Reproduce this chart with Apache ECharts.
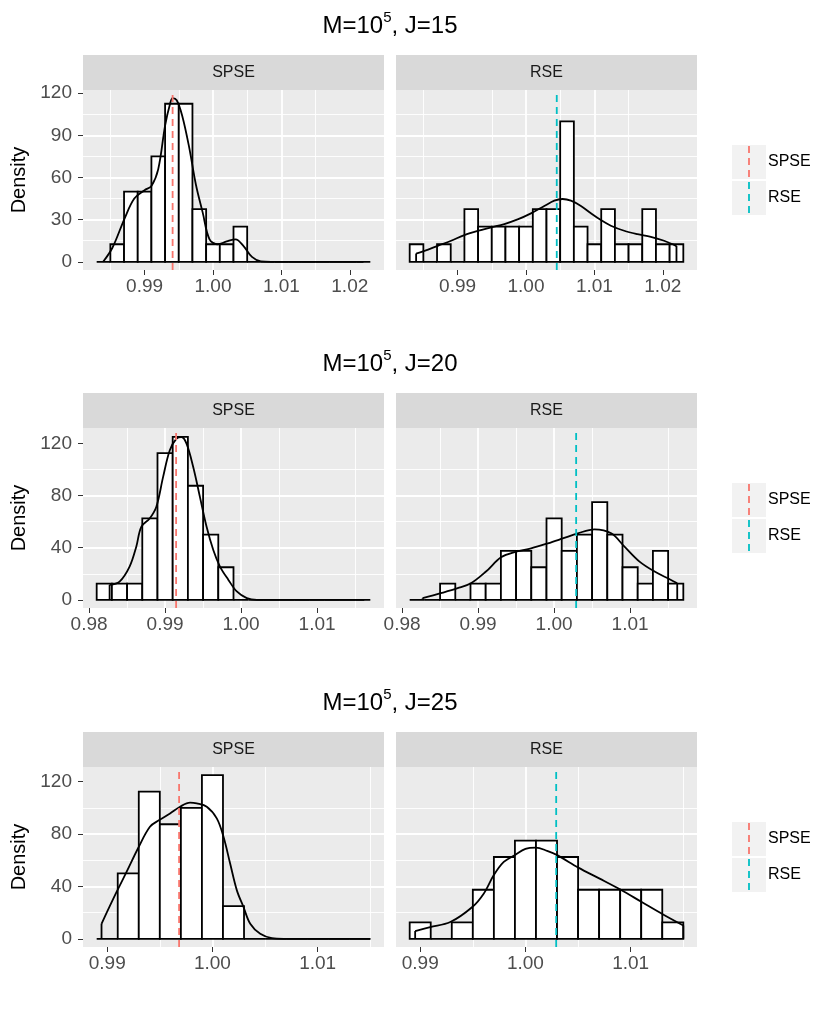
<!DOCTYPE html>
<html>
<head>
<meta charset="utf-8">
<script src="https://cdn.jsdelivr.net/npm/echarts@6/dist/echarts.min.js"></script>
<style>
  html, body { margin: 0; padding: 0; background: #fff; }
  #chart { width: 834px; height: 1015px; }
</style>
</head>
<body>
<div id="chart"></div>
<script>
// ---- data ----
const methods = ['SPSE', 'RSE']
const methodColors = ['#F8766D', '#00BFC4']
const rowLabels = ['J=15', 'J=20', 'J=25']

const binWidth = 0.002
const binStarts = [0.983, 0.981, 0.989]

// histogram densities (n = 40, bin width 0.002)
const spseJ15 = [0, 12.5, 50, 50, 75, 112.5, 112.5, 37.5, 12.5, 12.5, 25, 0, 0, 0, 0, 0, 0, 0, 0, 0]
const rseJ15 = [12.5, 0, 12.5, 0, 37.5, 25, 25, 25, 25, 37.5, 37.5, 100, 25, 12.5, 37.5, 12.5, 12.5, 37.5, 12.5, 12.5]
const spseJ20 = [12.5, 12.5, 12.5, 62.5, 112.5, 125, 87.5, 50, 25, 0, 0, 0, 0, 0, 0, 0, 0, 0]
const rseJ20 = [0, 0, 12.5, 0, 12.5, 12.5, 37.5, 37.5, 25, 62.5, 37.5, 50, 75, 50, 25, 12.5, 37.5, 12.5]
const spseJ25 = [0, 50, 112.5, 87.5, 100, 125, 25, 0, 0, 0, 0, 0, 0]
const rseJ25 = [12.5, 0, 12.5, 37.5, 62.5, 75, 75, 62.5, 37.5, 37.5, 37.5, 37.5, 12.5]

// kernel density curves [x, density]
const dSpseJ15 = [[0.98394, 0], [0.9853, 10], [0.98709, 31], [0.9885, 45], [0.99, 51], [0.991, 54], [0.992, 66],
  [0.993, 97], [0.9937, 112], [0.9941, 116.5], [0.9947, 115], [0.9955, 104], [0.9965, 82], [0.9975, 55],
  [0.9985, 35], [0.9995, 16], [1.0007, 12.5], [1.002, 14.5], [1.0033, 16], [1.0045, 11], [1.0057, 3.5],
  [1.007, 0.3], [1.0085, 0], [1.022, 0]]
const dRseJ15 = [[0.98394, 5.9], [0.98516, 7.8], [0.9871, 11.4], [0.98905, 15], [0.991, 19], [0.99294, 22],
  [0.99489, 24.5], [0.99684, 26.9], [0.99878, 30.2], [1.00073, 34.5], [1.00268, 39.7], [1.00414, 43.5],
  [1.00535, 44.7], [1.00657, 43.5], [1.00803, 39.7], [1.00949, 34.5], [1.01095, 29.7], [1.01241, 25.7],
  [1.01436, 22.1], [1.0163, 19.7], [1.01825, 17.8], [1.02019, 15], [1.022, 11.2]]
const dSpseJ20 = [[0.9827, 11.5], [0.98401, 14], [0.98533, 25.5], [0.98621, 40.8], [0.98687, 56], [0.98797, 62.4],
  [0.98885, 71.4], [0.98974, 94.3], [0.99062, 114.7], [0.9915, 123.6], [0.99216, 124.9], [0.99282, 119.8],
  [0.9937, 101.9], [0.99458, 79], [0.99546, 56], [0.99634, 38.2], [0.99722, 25.5], [0.99833, 15.3],
  [0.99943, 6.4], [1.00075, 1.3], [1.00207, 0], [1.0162, 0]]
const dRseJ20 = [[0.9827, 1.3], [0.98511, 5.1], [0.98731, 8.9], [0.98906, 12.7], [0.99104, 21.7], [0.99302, 32.6],
  [0.99499, 36.9], [0.99697, 39.5], [0.99917, 43.3], [1.00114, 47.1], [1.00312, 51], [1.00531, 54],
  [1.00751, 51], [1.00926, 40.8], [1.01124, 29.3], [1.01322, 21.7], [1.0152, 15.8], [1.0162, 12.7]]
const dSpseJ25 = [[0.98946, 11.5], [0.99089, 35.8], [0.99184, 51.1], [0.99292, 69], [0.99406, 85.6], [0.99495, 90.7],
  [0.99597, 95.8], [0.99692, 100.9], [0.99787, 104], [0.99851, 103.4], [0.99946, 100.9], [1.00041, 92],
  [1.00105, 77.9], [1.00168, 57.5], [1.00232, 37], [1.00295, 24.3], [1.00359, 11.5], [1.00454, 3.8],
  [1.00565, 0.5], [1.00676, 0], [1.015, 0]]
const dRseJ25 = [[0.98952, 5.9], [0.99095, 8.9], [0.99286, 12.8], [0.99495, 24.3], [0.99603, 34.5], [0.99698, 48.5],
  [0.99794, 58.7], [0.99898, 63.9], [1.0, 68.7], [1.00098, 69.7], [1.00206, 67.2], [1.00302, 63.9],
  [1.00502, 54.4], [1.00705, 46], [1.00905, 37.5], [1.01105, 28.1], [1.01308, 18.6], [1.015, 10.2]]

// means (dashed reference lines)
const meansJ15 = [0.9941, 1.0045]
const meansJ20 = [0.99145, 1.0029]
const meansJ25 = [0.99683, 1.00292]

// axes
const xLimits = [[0.981, 1.025], [0.9792, 1.0188], [0.9877, 1.0163]]
const yLimits = [[-5.83, 122.3], [-6.27, 131.8], [-6.25, 131.25]]
const xTicks = [[0.99, 1.0, 1.01, 1.02], [0.98, 0.99, 1.0, 1.01], [0.99, 1.0, 1.01]]
const yTicks = [[0, 30, 60, 90, 120], [0, 40, 80, 120], [0, 40, 80, 120]]

const hists = [[spseJ15, rseJ15], [spseJ20, rseJ20], [spseJ25, rseJ25]]
const dens = [[dSpseJ15, dRseJ15], [dSpseJ20, dRseJ20], [dSpseJ25, dRseJ25]]
const means = [meansJ15, meansJ20, meansJ25]

// ---- layout ----
const FONT = 'Liberation Sans'
const panelLefts = [83, 396]
const panelW = 301
const rowTops = [90, 428, 767]
const panelH = 180
const stripH = 35

const chart = echarts.init(document.getElementById('chart'))

const grids = []
const xAxes = []
const yAxes = []
const series = []
const titles = []
const graphics = []

const renderBar = (params, api) => {
  const p0 = api.coord([api.value(0), 0])
  const p1 = api.coord([api.value(1), api.value(2)])
  return {
    type: 'rect',
    shape: { x: p0[0], y: p1[1], width: p1[0] - p0[0], height: p0[1] - p1[1] },
    style: { fill: '#ffffff', stroke: '#000000', lineWidth: 1.8 },
  }
}

rowLabels.forEach((rowLabel, r) => {
  const top = rowTops[r]
  titles.push({
    text: 'M=10{sup|5}, ' + rowLabel,
    left: 390,
    top: top - 80,
    textAlign: 'center',
    padding: 0,
    textStyle: {
      fontFamily: FONT, fontSize: 24, lineHeight: 32, fontWeight: 'normal', color: '#000',
      rich: { sup: { fontFamily: FONT, fontSize: 15, lineHeight: 15, verticalAlign: 'top', color: '#000' } },
    },
  })

  methods.forEach((method, m) => {
    const idx = r * 2 + m
    const left = panelLefts[m]
    grids.push({
      left, top, width: panelW, height: panelH,
      show: true, backgroundColor: '#ebebeb', borderWidth: 0,
    })
    xAxes.push({
      gridIndex: idx, type: 'value',
      min: xLimits[r][0], max: xLimits[r][1],
      splitNumber: 4, minInterval: 0.01, maxInterval: 0.01,
      axisLine: { show: false, onZero: false },
      axisTick: { show: true, length: 5, lineStyle: { color: '#333', width: 1 }, customValues: xTicks[r] },
      axisLabel: {
        fontFamily: FONT, fontSize: 19, color: '#4d4d4d', margin: 7,
        customValues: xTicks[r], formatter: v => v.toFixed(2),
      },
      splitLine: { show: true, showMinLine: false, showMaxLine: false, lineStyle: { color: '#fff', width: 1.8 } },
      minorTick: { show: false, splitNumber: 2 },
      minorSplitLine: { show: true, lineStyle: { color: '#fff', width: 0.9 } },
    })
    const yStep = yTicks[r][1] - yTicks[r][0]
    yAxes.push({
      gridIndex: idx, type: 'value',
      min: yLimits[r][0], max: yLimits[r][1],
      splitNumber: 4, minInterval: yStep, maxInterval: yStep,
      axisLine: { show: false, onZero: false },
      axisTick: { show: m === 0, length: 5, lineStyle: { color: '#333', width: 1 }, customValues: yTicks[r] },
      axisLabel: {
        show: m === 0, fontFamily: FONT, fontSize: 19, color: '#4d4d4d', margin: 11,
        customValues: yTicks[r],
      },
      splitLine: { show: true, showMinLine: false, showMaxLine: false, lineStyle: { color: '#fff', width: 1.8 } },
      minorTick: { show: false, splitNumber: 2 },
      minorSplitLine: { show: true, lineStyle: { color: '#fff', width: 0.9 } },
      name: m === 0 ? 'Density' : '',
      nameLocation: 'middle', nameGap: 54, nameRotate: 90,
      nameTextStyle: { fontFamily: FONT, fontSize: 20, color: '#000' },
    })

    const counts = hists[r][m]
    const bars = counts.map((d, i) => [
      +(binStarts[r] + i * binWidth).toFixed(4),
      +(binStarts[r] + (i + 1) * binWidth).toFixed(4),
      d,
    ])
    series.push({
      type: 'custom', xAxisIndex: idx, yAxisIndex: idx,
      renderItem: renderBar, encode: { x: [0, 1], y: 2 },
      data: bars, silent: true, z: 2,
    })

    const curve = dens[r][m]
    const first = curve[0]
    const last = curve[curve.length - 1]
    series.push({
      type: 'line', xAxisIndex: idx, yAxisIndex: idx,
      data: curve, showSymbol: false, smooth: 0.35,
      lineStyle: { color: '#000', width: 1.8 }, silent: true, z: 3,
    })
    series.push({
      type: 'line', xAxisIndex: idx, yAxisIndex: idx,
      data: [[first[0], 0], [first[0], first[1]], [first[0], '-'], [last[0], last[1]], [last[0], 0]],
      showSymbol: false, connectNulls: false,
      lineStyle: { color: '#000', width: 1.8 }, silent: true, z: 3,
    })
    // dashed mean line across the whole panel
    series.push({
      type: 'line', xAxisIndex: idx, yAxisIndex: idx,
      data: [[means[r][m], yLimits[r][0]], [means[r][m], yLimits[r][1]]],
      showSymbol: false,
      lineStyle: { color: methodColors[m], type: [7, 5], width: 1.8 }, silent: true, z: 4,
    })

    // facet strip
    graphics.push({
      type: 'rect', shape: { x: left, y: top - stripH, width: panelW, height: stripH },
      style: { fill: '#d9d9d9' }, silent: true,
    })
    graphics.push({
      type: 'text', x: left + panelW / 2, y: top - stripH / 2,
      style: { text: method, fontFamily: FONT, fontSize: 16, fill: '#1a1a1a', align: 'center', verticalAlign: 'middle' },
      silent: true,
    })
  })

  // legend for the row
  const c = top + panelH / 2
  methods.forEach((method, m) => {
    const ky = m === 0 ? c - 35 : c + 1
    graphics.push({
      type: 'rect', shape: { x: 732, y: ky, width: 34, height: 34 },
      style: { fill: '#f2f2f2' }, silent: true,
    })
    graphics.push({
      type: 'line', shape: { x1: 749, y1: ky + 1, x2: 749, y2: ky + 33 },
      style: { stroke: methodColors[m], lineWidth: 1.8, lineDash: [7, 5] }, silent: true,
    })
    graphics.push({
      type: 'text', x: 768, y: ky + 17,
      style: { text: method, fontFamily: FONT, fontSize: 16, fill: '#000', align: 'left', verticalAlign: 'middle' },
      silent: true,
    })
  })
})

chart.setOption({
  animation: false,
  backgroundColor: '#ffffff',
  textStyle: { fontFamily: FONT },
  title: titles,
  grid: grids,
  xAxis: xAxes,
  yAxis: yAxes,
  series,
  graphic: graphics,
})

window.addEventListener('resize', () => chart.resize())
</script>
</body>
</html>
